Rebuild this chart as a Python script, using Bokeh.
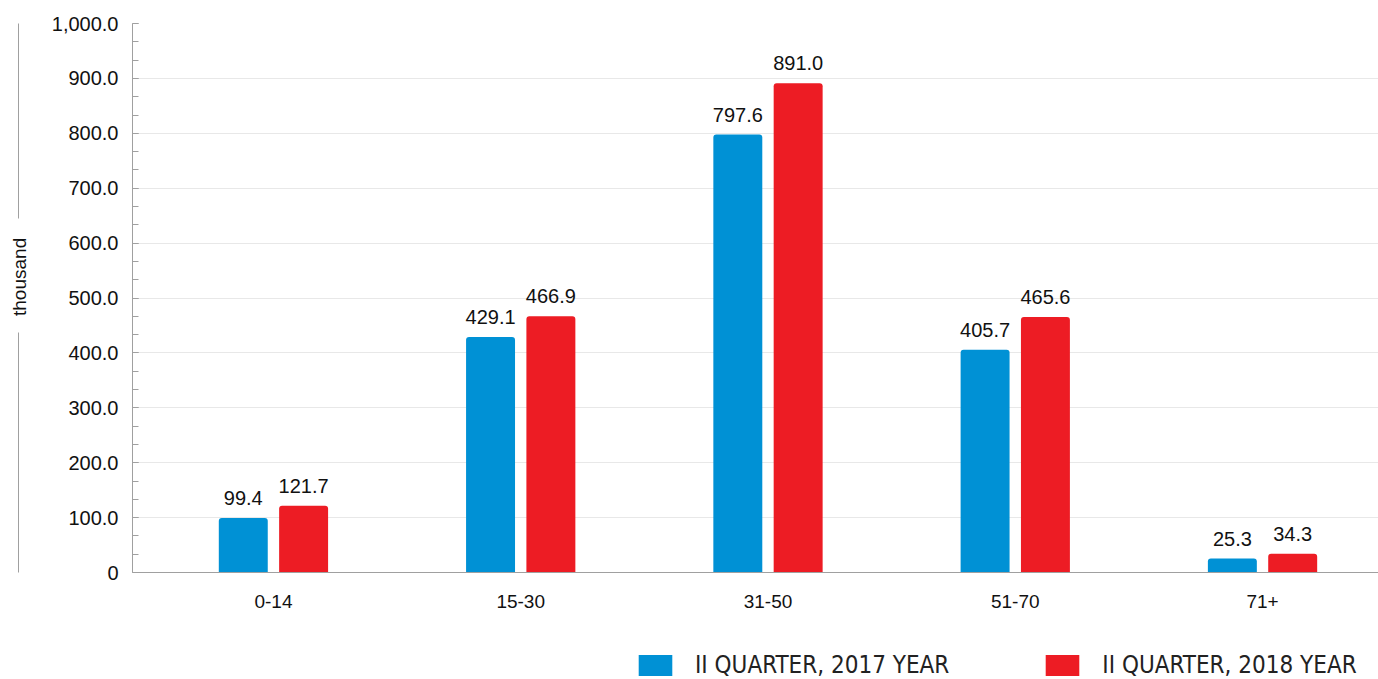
from bokeh.plotting import figure
from bokeh.layouts import column
from bokeh.models import (Range1d, NumeralTickFormatter, FixedTicker, Legend, LegendItem,
                          LinearAxis, ColumnDataSource)
from bokeh.core.properties import value
from bokeh.embed import file_html
from bokeh.resources import INLINE

# Age groups and counts (thousand)
age_groups = ["0-14", "15-30", "31-50", "51-70", "71+"]
q2_2017 = [99.4, 429.1, 797.6, 405.7, 25.3]
q2_2018 = [121.7, 466.9, 891.0, 465.6, 34.3]
series_names = ["II QUARTER, 2017 YEAR", "II QUARTER, 2018 YEAR"]
y_ticks = [0, 100, 200, 300, 400, 500, 600, 700, 800, 900, 1000]

BLUE = "#0091D5"
RED = "#ED1C24"
FONT = "Liberation Sans"
GREY = "#a0a0a0"

xs = list(range(len(age_groups)))
offset = 0.122
bar_w = 0.198

src17 = ColumnDataSource(dict(x=[i - offset for i in xs], top=q2_2017,
                              lab=[f"{v:.1f}" for v in q2_2017]))
src18 = ColumnDataSource(dict(x=[i + offset for i in xs], top=q2_2018,
                              lab=[f"{v:.1f}" for v in q2_2018]))

p = figure(width=1378, height=649, output_backend="svg", toolbar_location=None,
           x_range=Range1d(-0.570, 4.469), y_range=Range1d(0, 1000),
           min_border_left=132, min_border_right=0, min_border_top=23,
           min_border_bottom=77)
p.outline_line_color = None
p.background_fill_color = "white"

p.vbar(x="x", top="top", width=bar_w, source=src17, fill_color=BLUE,
       line_color=None, border_radius=(3, 3, 0, 0))
p.vbar(x="x", top="top", width=bar_w, source=src18, fill_color=RED,
       line_color=None, border_radius=(3, 3, 0, 0))

for src in (src17, src18):
    p.text(x="x", y="top", text="lab", source=src, text_align="center",
           text_baseline="bottom", y_offset=-13, text_font=value(FONT),
           text_font_size="20px", text_color="#111111")

# Y axis with ticks and value labels; a blank title keeps the panel wide
ya = p.yaxis[0]
ya.ticker = FixedTicker(ticks=y_ticks,
                        minor_ticks=[i * 100 / 3 for i in range(31)])
ya.formatter = NumeralTickFormatter(format="0,0.0")
ya.major_label_overrides = {0: "0"}
ya.major_label_text_font = FONT
ya.major_label_text_font_size = "20px"
ya.major_label_text_color = "#111111"
ya.major_label_standoff = 14
ya.axis_line_color = GREY
ya.major_tick_line_color = GREY
ya.minor_tick_line_color = GREY
ya.major_tick_in = 6
ya.major_tick_out = 0
ya.minor_tick_in = 6
ya.minor_tick_out = 0
ya.axis_label = " "
ya.axis_label_text_font_size = "10px"
ya.axis_label_standoff = 16

# Outer axis: a broken rule with the unit title in the break
unit_axis = LinearAxis(ticker=FixedTicker(ticks=[]), axis_label="\u00a0" * 8 + "thousand",
                       axis_line_color=GREY, axis_line_dash="240 114 195",
                       major_tick_line_color=None, minor_tick_line_color=None,
                       major_label_text_font_size="0px",
                       axis_label_text_font=FONT, axis_label_text_font_size="19px",
                       axis_label_text_font_style="normal",
                       axis_label_text_color="#111111", axis_label_standoff=-11)
p.add_layout(unit_axis, "left")

# X axis
xa = p.xaxis[0]
xa.ticker = FixedTicker(ticks=xs)
xa.major_label_overrides = {i: g for i, g in enumerate(age_groups)}
xa.major_label_text_font = FONT
xa.major_label_text_font_size = "19px"
xa.major_label_text_color = "#111111"
xa.major_label_standoff = 22
xa.major_tick_in = 0
xa.major_tick_out = 0
xa.minor_tick_line_color = None
xa.axis_line_color = GREY

p.xgrid.grid_line_color = None
p.ygrid.grid_line_color = "#e8e8e8"

# Legend strip below the chart; its key renderers are hidden, only the keys show
leg = figure(width=1378, height=30, output_backend="svg", toolbar_location=None,
             x_range=Range1d(-0.570, 4.469), y_range=Range1d(0, 1000),
             x_axis_type=None, y_axis_type=None,
             min_border_left=132, min_border_right=0, min_border_top=0, min_border_bottom=0)
leg.outline_line_color = None
leg.xgrid.visible = False
leg.ygrid.visible = False
k17 = leg.vbar(x="x", top="top", width=bar_w, source=src17, fill_color=BLUE,
               line_color=None, border_radius=3, visible=False)
k18 = leg.vbar(x="x", top="top", width=bar_w, source=src18, fill_color=RED,
               line_color=None, border_radius=3, visible=False)
legend = Legend(items=[LegendItem(label=series_names[0], renderers=[k17]),
                       LegendItem(label=series_names[1], renderers=[k18])],
                location=(502, 0), orientation="horizontal",
                glyph_width=42, glyph_height=26, label_standoff=19, spacing=92,
                padding=0, margin=0, border_line_color=None,
                background_fill_alpha=0, inactive_fill_alpha=0,
                label_text_font="'DejaVu Sans Condensed', Roboto",
                label_text_font_size="24px", label_text_color="#222222")
leg.add_layout(legend)

open("out.html", "w").write(file_html(column(p, leg, spacing=0), INLINE))
